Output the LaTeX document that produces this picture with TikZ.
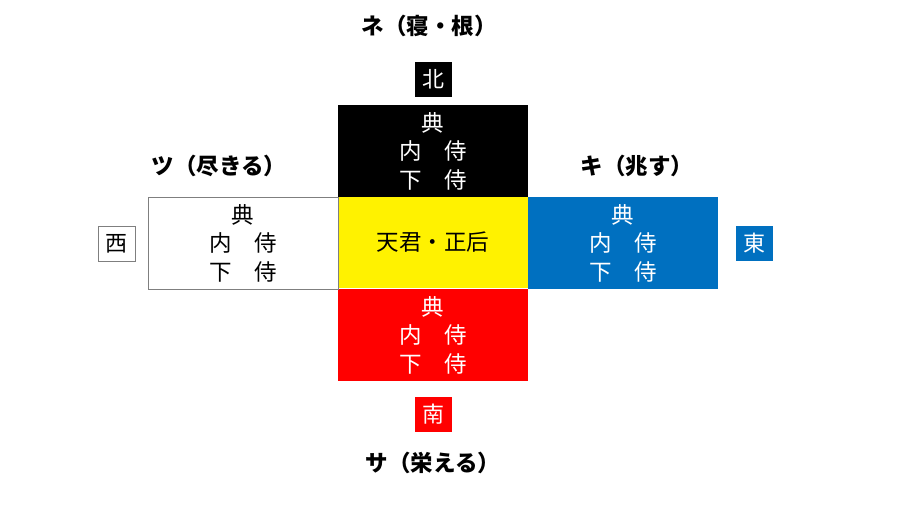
\documentclass[tikz,border=0pt]{standalone}
\usepackage{fontspec}
\setmainfont{Noto Sans CJK JP}
\usetikzlibrary{positioning}
\definecolor{blueE}{HTML}{0070C0}
\definecolor{grayB}{HTML}{7F7F7F}
\tikzset{
  area/.style={minimum width=190pt, minimum height=92pt, inner sep=0pt, outer sep=0pt, align=center, font=\fontsize{22.5}{28.5}\selectfont},
  dirbox/.style={minimum width=37pt, minimum height=35pt, inner sep=0pt, font=\fontsize{22}{24}\selectfont},
  title/.style={font=\fontsize{22.5}{24}\selectfont\bfseries, inner sep=0pt}
}
\begin{document}
\begin{tikzpicture}[x=1pt,y=-1pt]
\useasboundingbox (0,0) rectangle (914,508);
\node[area, fill=yellow] (c) at (433,242) {天君・正后};
\node[area, fill=black, text=white] (n) at (433,151) {典\\内　侍\\下　侍};
\node[area, fill=red, text=white] (s) at (433,335) {典\\内　侍\\下　侍};
\node[area, fill=white, draw=grayB, line width=0.8pt] (w) at (243,243) {典\\内　侍\\下　侍};
\node[area, fill=blueE, text=white] (e) at (623,243) {典\\内　侍\\下　侍};
\node[dirbox, fill=black, text=white] (bn) at (433,79.5) {北};
\node[dirbox, fill=red, text=white] (bs) at (433,414.5) {南};
\node[dirbox, draw=grayB, line width=0.8pt] (bw) at (116.5,243.5) {西};
\node[dirbox, fill=blueE, text=white] (be) at (754.5,243.5) {東};
\node[title] (tn) at (429,26) {ネ（寝・根）};
\node[title] (tw) at (219,166) {ツ（尽きる）};
\node[title] (te) at (637,166) {キ（兆す）};
\node[title] (ts) at (433,463) {サ（栄える）};
\end{tikzpicture}
\end{document}
